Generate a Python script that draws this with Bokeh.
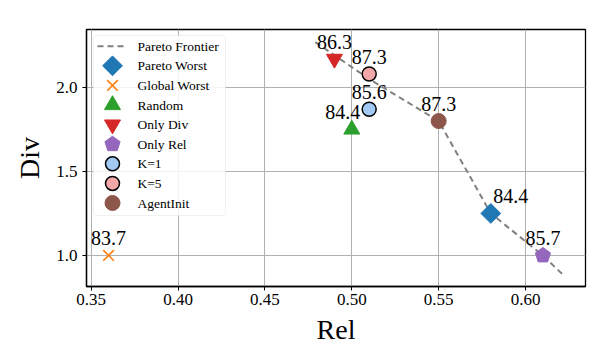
from bokeh.plotting import figure
from bokeh.models import Range1d, ColumnDataSource, FixedTicker, BoxAnnotation
from bokeh.core.properties import value
from bokeh.embed import file_html
from bokeh.resources import INLINE

# ---------------- data ----------------
pareto_rel = [0.479, 0.51, 0.55, 0.58, 0.61, 0.622]
pareto_div = [2.27, 2.05, 1.80, 1.25, 1.00, 0.88]

methods = ["Pareto Worst", "Global Worst", "Random", "Only Div", "Only Rel", "K=1", "K=5", "AgentInit"]
rel = [0.58, 0.36, 0.50, 0.49, 0.61, 0.51, 0.51, 0.55]
div = [1.25, 1.00, 1.75, 2.17, 1.00, 1.87, 2.08, 1.80]
scores = ["84.4", "83.7", "84.4", "86.3", "85.7", "85.6", "87.3", "87.3"]

x_ticks = [0.35, 0.40, 0.45, 0.50, 0.55, 0.60]
y_ticks = [1.0, 1.5, 2.0]

# ---------------- styles ----------------
FONT = "Liberation Serif"
NUM_FONT_TICK = "Times New Roman"
NUM_FONT_LABEL = "serif"
label_dx = [20, 0, -9, 0, 0, 0, 0, 0]  # label pixel offsets (style)

W, H = 603, 354
ML, MR, MT, MB = 86, 18, 29, 68
FW, FH = W - ML - MR, H - MT - MB

p = figure(width=W, height=H, output_backend="svg", toolbar_location=None,
           x_range=Range1d(0.3473, 0.6345), y_range=Range1d(0.815, 2.345),
           min_border_left=ML, min_border_right=MR, min_border_top=MT, min_border_bottom=MB)
p.background_fill_color = "white"
p.border_fill_color = "white"
p.outline_line_color = "black"
p.outline_line_width = 1.3

# pixel-space ranges for the legend (frame pixels, y downward)
p.extra_x_ranges = {"lx": Range1d(0, FW)}
p.extra_y_ranges = {"ly": Range1d(FH, 0)}

for ax in (p.xaxis[0], p.yaxis[0]):
    ax.axis_line_color = "black"
    ax.axis_line_width = 1.3
    ax.major_tick_line_color = "black"
    ax.major_tick_in = 0
    ax.major_tick_out = 4
    ax.minor_tick_line_color = None
    ax.major_label_text_font = NUM_FONT_TICK
    ax.major_label_text_font_size = "17px"
    ax.major_label_text_color = "black"
    ax.axis_label_text_font = FONT
    ax.axis_label_text_font_size = "28px"
    ax.axis_label_text_font_style = "normal"
    ax.axis_label_text_color = "black"

p.xaxis.ticker = FixedTicker(ticks=x_ticks)
p.yaxis.ticker = FixedTicker(ticks=y_ticks)
p.xaxis.major_label_overrides = {t: f"{t:.2f}" for t in x_ticks}
p.yaxis.major_label_overrides = {t: f"{t:.1f}" for t in y_ticks}
p.xaxis.axis_label = "Rel"
p.yaxis.axis_label = "Div"
p.xaxis.major_label_standoff = 3
p.yaxis.major_label_standoff = 5
p.xaxis.axis_label_standoff = 6
p.yaxis.axis_label_standoff = 8

p.grid.grid_line_color = "#b0b0b0"
p.grid.grid_line_width = 1

line_style = dict(line_color="gray", line_width=2, line_dash="6 4")
styles = [
    dict(kind="scatter", marker="square", angle=0.785398, size=14, fill_color="#1f77b4", line_color="#1f77b4"),
    dict(kind="scatter", marker="x", size=15, line_color="#ff7f0e", line_width=1.6),
    dict(kind="scatter", marker="triangle", size=16, fill_color="#2ca02c", line_color="#2ca02c"),
    dict(kind="scatter", marker="inverted_triangle", size=16, fill_color="#d62728", line_color="#d62728"),
    dict(kind="ngon", radius=8, radius_units="screen", n=5, angle=0.0, fill_color="#9467bd", line_color="#9467bd"),
    dict(kind="scatter", marker="circle", size=14, fill_color="#a1c9f4", line_color="black", line_width=1.5),
    dict(kind="scatter", marker="circle", size=14, fill_color="#f4a7a9", line_color="black", line_width=1.5),
    dict(kind="scatter", marker="circle", size=15, fill_color="#8c564b", line_color="#8c564b"),
]

def draw(x, y, st, **kw):
    st = dict(st)
    kind = st.pop("kind")
    if kind == "ngon":
        return p.ngon(x=x, y=y, **st, **kw)
    return p.scatter(x=x, y=y, **st, **kw)

# Pareto frontier
p.line(pareto_rel, pareto_div, **line_style)

for i in range(len(methods)):
    draw([rel[i]], [div[i]], styles[i])

src = ColumnDataSource(dict(x=rel, y=div, label=scores, dx=label_dx))
p.text("x", "y", text="label", source=src, x_offset="dx", y_offset=-17,
       text_align="center", text_baseline="middle",
       text_font=value(NUM_FONT_LABEL), text_font_size="20px", text_color="black")

# ---------------- legend (drawn in frame-pixel space) ----------------
LG_L, LG_T, LG_R, LG_B = 7, 6, 139, 186
ROW0, PITCH = 16.7, 19.6
GX0, GX1, TX = 11, 41, 51
p.add_layout(BoxAnnotation(left=LG_L, right=LG_R, top=LG_T, bottom=LG_B,
                           x_range_name="lx", y_range_name="ly",
                           fill_color="white", fill_alpha=0.85,
                           line_color="#d0d0d0", line_width=1, border_radius=3, level="annotation"))
labels = ["Pareto Frontier"] + methods
rows = [ROW0 + k * PITCH for k in range(len(labels))]
p.line([GX0, GX1], [rows[0], rows[0]], x_range_name="lx", y_range_name="ly", level="overlay", **line_style)
for i in range(len(methods)):
    draw([(GX0 + GX1) / 2], [rows[i + 1]], styles[i], x_range_name="lx", y_range_name="ly", level="overlay")
p.text(x=[TX] * len(labels), y=rows, text=labels, x_range_name="lx", y_range_name="ly",
       text_align="left", text_baseline="middle", level="overlay",
       text_font=value(FONT), text_font_size="13.5px", text_color="black")

open("out.html", "w").write(file_html(p, INLINE))
